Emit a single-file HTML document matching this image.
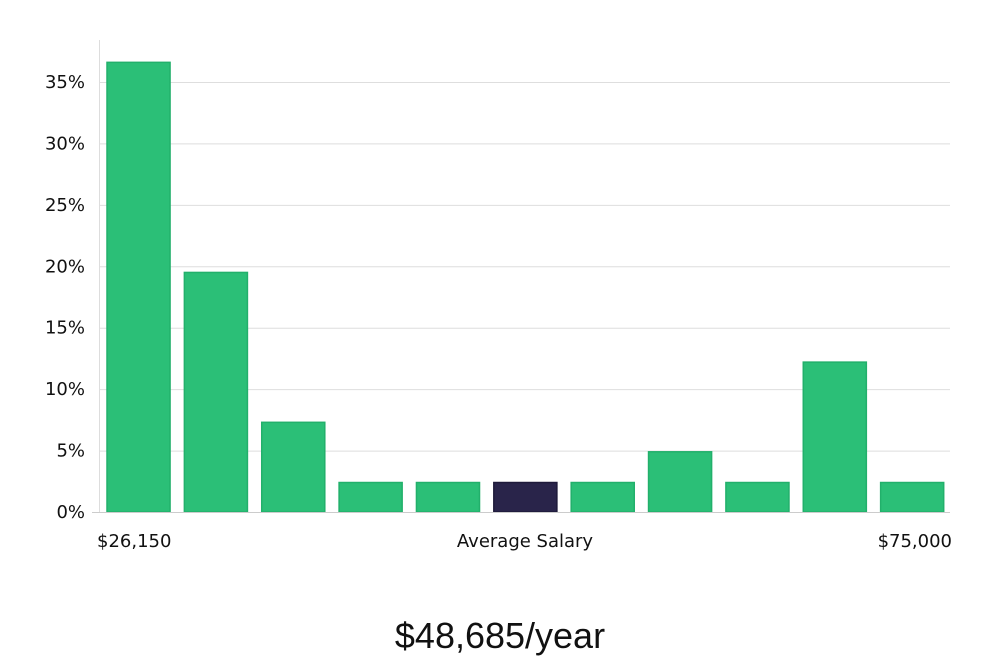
<!DOCTYPE html>
<html><head><meta charset="utf-8"><style>
body{margin:0;background:#fff;font-family:"Liberation Sans","DejaVu Sans",sans-serif;}
svg text{font-family:"DejaVu Sans","Liberation Sans",sans-serif;}
</style></head><body>
<svg id="chart" width="1000" height="660" viewBox="0 0 1000 660" xmlns="http://www.w3.org/2000/svg">
<g id="grid"></g><g id="bars"></g><g id="yticks"></g>
<line x1="99.5" y1="40" x2="99.5" y2="512" stroke="#ddd"/>
<line x1="92" y1="512.5" x2="950" y2="512.5" stroke="#ccc"/>
<text x="97" y="547" font-size="18" fill="#111">$26,150</text>
<text x="525" y="547" font-size="18" fill="#111" text-anchor="middle">Average Salary</text>
<text x="952" y="547" font-size="18" fill="#111" text-anchor="end">$75,000</text>
<text x="500" y="648" font-size="36" fill="#111" text-anchor="middle" style="font-family:'Liberation Sans',sans-serif">$48,685/year</text>
</svg>
<script>
const categories=["b1","b2","b3","b4","b5","b6","b7","b8","b9","b10","b11"];
const values=[36.6,19.5,7.3,2.4,2.4,2.4,2.4,4.9,2.4,12.2,2.4];
const highlightIndex=5;
const yTicks=[0,5,10,15,20,25,30,35];
const NS="http://www.w3.org/2000/svg";
const y0=512,pxPer=(512-82)/35,xL=99,xR=950;
function y(v){return y0-v*pxPer;}
const step=(xR-xL)/categories.length;
function x(i){return xL+i*step+8;}
const bw=step-14.3;
const grid=document.getElementById('grid'),bars=document.getElementById('bars'),yt=document.getElementById('yticks');
yTicks.forEach(t=>{
 if(t>0){const l=document.createElementNS(NS,'line');
 
 
 l.setAttribute('x1',xL);l.setAttribute('x2',xR);l.setAttribute('y1',y(t)+0.5);l.setAttribute('y2',y(t)+0.5);l.setAttribute('stroke','#dedede');grid.appendChild(l);}
 const tx=document.createElementNS(NS,'text');
 
 
 tx.setAttribute('x',85);tx.setAttribute('y',y(t)+6);tx.setAttribute('text-anchor','end');tx.setAttribute('font-size','18');tx.setAttribute('fill','#111');tx.textContent=t+'%';yt.appendChild(tx);
});
values.forEach((v,i)=>{
 const r=document.createElementNS(NS,'rect');
 
 
 const hi=i===highlightIndex;
 r.setAttribute('x',x(i));r.setAttribute('y',y(v));r.setAttribute('width',bw);r.setAttribute('height',y0-y(v));
 r.setAttribute('fill',hi?'#29244a':'#2bbf77');r.setAttribute('stroke',hi?'#1e1a3a':'#22b06b');r.setAttribute('stroke-width','1.5');
 bars.appendChild(r);
});
</script>
</body></html>
